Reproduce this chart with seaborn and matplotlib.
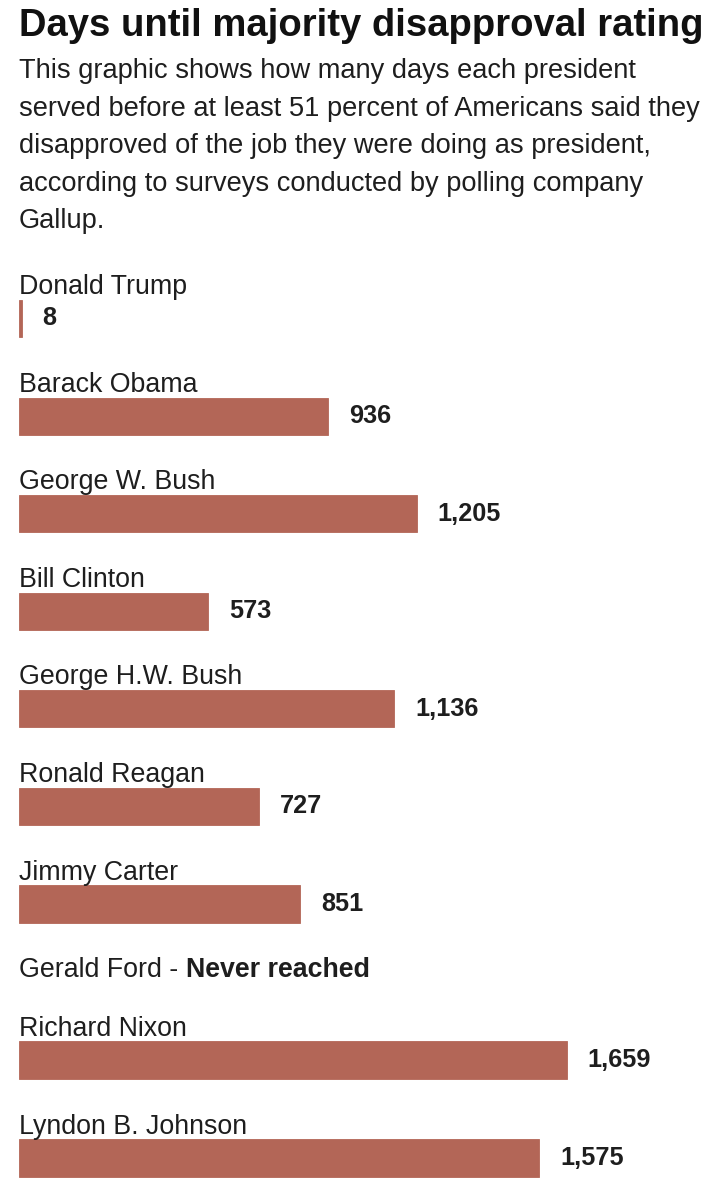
import numpy as np
import pandas as pd
import seaborn as sns
import matplotlib.pyplot as plt

presidents = ["Donald Trump", "Barack Obama", "George W. Bush", "Bill Clinton",
              "George H.W. Bush", "Ronald Reagan", "Jimmy Carter", "Gerald Ford",
              "Richard Nixon", "Lyndon B. Johnson"]
days = [8, 936, 1205, 573, 1136, 727, 851, None, 1659, 1575]

title = "Days until majority disapproval rating"
subtitle = ["This graphic shows how many days each president",
            "served before at least 51 percent of Americans said they",
            "disapproved of the job they were doing as president,",
            "according to surveys conducted by polling company",
            "Gallup."]

sns.set_style("white")
plt.rcParams["font.family"] = ["Liberation Sans", "DejaVu Sans"]

bar_col = "#b36657"
txt_col = "#1e1e1e"

df = pd.DataFrame({"president": presidents, "days": days})
ford_idx = df.index[df["days"].isna()][0]
top = df.iloc[:ford_idx]
bottom = df.iloc[ford_idx + 1:]

W, H = 724, 1200
fig = plt.figure(figsize=(W / 100, H / 100), dpi=100)

px_per_day = 0.3303
xmax = 2000
ax_w = xmax * px_per_day / W

# top block: rows spaced ~97.6px, first bar centred at y=318.5
axA = fig.add_axes([19 / W, 1 - 952.8 / H, ax_w, (952.8 - 269.7) / H])
# bottom block after Ford
axB = fig.add_axes([19 / W, 1 - 1207 / H, ax_w, (1207 - 1011) / H])

for ax, part in [(axA, top), (axB, bottom)]:
    sns.barplot(data=part, x="days", y="president", orient="h", color=bar_col,
                saturation=1, width=0.38, linewidth=0.6, edgecolor=bar_col, ax=ax)
    ax.set_xlim(0, xmax)
    ax.set_ylim(len(part) - 0.5, -0.5)
    for i, name in enumerate(part["president"]):
        ax.text(0, i - 0.25, name, ha="left", va="baseline", fontsize=19.3,
                color=txt_col)
    ax.bar_label(ax.containers[0], fmt="{:,.0f}", padding=15, fontsize=18.2,
                 fontweight="bold", color=txt_col)
    ax.axis("off")

# Gerald Ford row, no bar
t = axB.text(0, -0.847, "Gerald Ford - ", ha="left", va="baseline", fontsize=19.3,
             color=txt_col, clip_on=False)
axB.annotate("Never reached", xy=(1, 0), xycoords=t, ha="left", va="bottom",
             fontsize=19.3, fontweight="bold", color=txt_col)

fig.text(19 / W, 1 - 36 / H, title, ha="left", va="baseline", fontsize=27.5,
         fontweight="bold", color="#111111")
for k, line in enumerate(subtitle):
    fig.text(19 / W, 1 - (78 + 37.6 * k) / H, line, ha="left", va="baseline",
             fontsize=19.6, color=txt_col)

fig.savefig("out.png", dpi=100)
